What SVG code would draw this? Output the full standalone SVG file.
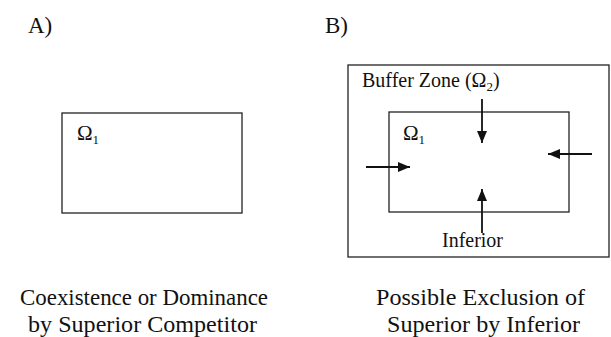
<svg xmlns="http://www.w3.org/2000/svg" width="611" height="337" viewBox="0 0 611 337">
<style>
text{font-family:"Liberation Serif","Times New Roman",serif;fill:#111;font-size:20px}
.lbl{font-size:23px}
.cap{font-size:23px}
.om{font-size:21px}
.box{fill:none;stroke:#222;stroke-width:1.3}
.arr{stroke:#111;stroke-width:1.8;fill:none}
.sub{font-size:13px}
</style>
<defs>
<marker id="ah" viewBox="0 0 12 10" refX="12" refY="5" markerWidth="12" markerHeight="10" markerUnits="userSpaceOnUse" orient="auto">
<path d="M0,0 L12,5 L0,10 Z" fill="#111"/>
</marker>
</defs>
<rect width="611" height="337" fill="#fff"/>
<g id="panelA">
<text class="lbl" x="28" y="33">A)</text>
<g id="omega1A">
<rect class="box" x="62" y="113" width="180" height="100"/>
<text class="om" x="77" y="140">Ω<tspan class="sub" dy="4">1</tspan></text>
</g>
<text class="cap" x="144" y="305" text-anchor="middle" textLength="248" lengthAdjust="spacingAndGlyphs">Coexistence or Dominance</text>
<text class="cap" x="142.5" y="332" text-anchor="middle" textLength="229" lengthAdjust="spacingAndGlyphs">by Superior Competitor</text>
</g>
<g id="panelB">
<text class="lbl" x="325" y="33">B)</text>
<g id="buffer">
<rect class="box" x="348" y="65" width="261" height="192"/>
<text x="362" y="87">Buffer Zone (Ω<tspan class="sub" dy="4">2</tspan><tspan dy="-4">)</tspan></text>
</g>
<g id="omega1B">
<rect class="box" x="389" y="112" width="180" height="100"/>
<text class="om" x="403" y="140">Ω<tspan class="sub" dy="4">1</tspan></text>
</g>
<text id="inferior" x="472.5" y="247" text-anchor="middle" textLength="61" lengthAdjust="spacingAndGlyphs">Inferior</text>
<text class="cap" x="480.5" y="305" text-anchor="middle" textLength="209" lengthAdjust="spacingAndGlyphs">Possible Exclusion of</text>
<text class="cap" x="483.5" y="332" text-anchor="middle" textLength="193" lengthAdjust="spacingAndGlyphs">Superior by Inferior</text>
</g>
<g id="connectors">
<line class="arr" x1="482" y1="99" x2="482" y2="143" marker-end="url(#ah)"/>
<line class="arr" x1="482" y1="233" x2="482" y2="189" marker-end="url(#ah)"/>
<line class="arr" x1="366" y1="167" x2="410" y2="167" marker-end="url(#ah)"/>
<line class="arr" x1="592" y1="154" x2="548" y2="154" marker-end="url(#ah)"/>
</g>
</svg>
